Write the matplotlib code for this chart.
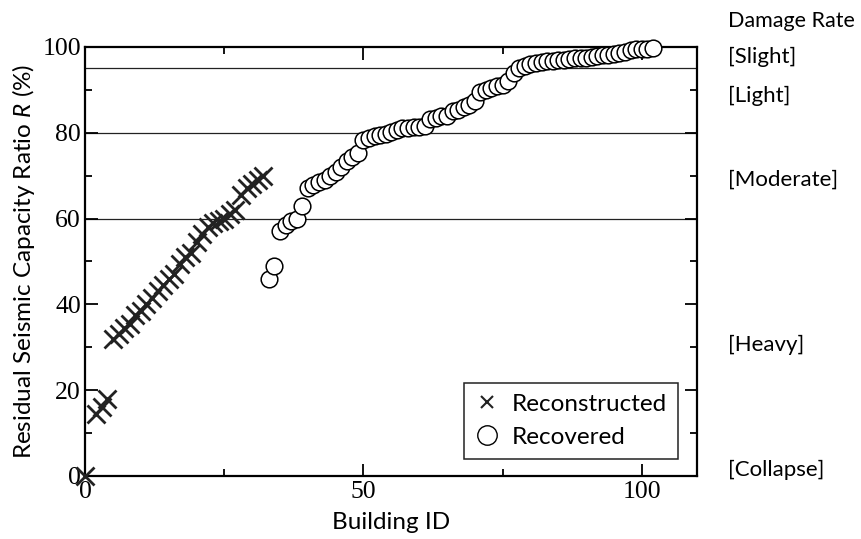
import matplotlib.pyplot as plt
from matplotlib.lines import Line2D
from matplotlib.ticker import MultipleLocator

plt.rcParams['mathtext.fontset'] = 'custom'
plt.rcParams['mathtext.it'] = 'Lato:italic'
plt.rcParams['mathtext.rm'] = 'Lato'

# building id / residual ratio R (%)
recon_id = [0, 2, 3, 4, 5, 6, 7, 8, 9, 10, 11, 12, 13, 14, 15, 16, 17, 18,
            19, 20, 21, 22, 23, 24, 25, 26, 27, 28, 29, 30, 31, 32]
recon_r = [0, 14.5, 16, 18, 32, 33, 34.5, 35.5, 37.5, 38.5, 40, 41.5, 43,
           44.5, 46, 47, 49.5, 51, 52, 54.5, 56.5, 58, 59, 59.5, 60, 61, 62,
           65.5, 67, 68, 69, 70]

recov_id = list(range(33, 103))
recov_r = [46, 49, 57, 58.5, 59.5, 60, 63, 67, 67.8, 68.4, 69, 69.8, 70.9,
           72, 73.3, 74.3, 75.2, 78.2, 78.8, 79.2, 79.5, 79.8, 80.2, 80.6,
           81, 81.2, 81.3, 81.4, 81.5, 83.2, 83.5, 83.8, 84, 85, 85.3, 86,
           86.5, 87.5, 89.5, 90, 90.4, 90.8, 91.2, 92, 94, 95, 95.6, 96, 96.2,
           96.4, 96.6, 96.8, 97, 97, 97.2, 97.3, 97.5, 97.5, 97.6, 97.8, 98,
           98.2, 98.4, 98.5, 98.8, 99.2, 99.4, 99.5, 99.6, 99.8]

limits = [95, 80, 60]
damage_labels = ['[Slight]', '[Light]', '[Moderate]', '[Heavy]', '[Collapse]']
damage_pos = [97.7, 88.6, 69, 30.5, 1.4]

fig = plt.figure(figsize=(8.61, 5.39), dpi=100)
ax = fig.add_axes([0.099, 0.117, 0.711, 0.796])

for y in limits:
    ax.axhline(y, color='#222222', lw=0.9, zorder=1)

ax.plot(recon_id, recon_r, ls='none', marker='x', ms=13, mew=2.0,
        color='#222222', zorder=3, clip_on=False)
ax.plot(recov_id, recov_r, ls='none', marker='o', ms=12, mew=1.1,
        mfc='white', mec='black', zorder=3, clip_on=False)

ax.set_xlim(0, 110)
ax.set_ylim(0, 100)
ax.xaxis.set_major_locator(MultipleLocator(50))
ax.xaxis.set_minor_locator(MultipleLocator(25))
ax.yaxis.set_major_locator(MultipleLocator(20))
ax.yaxis.set_minor_locator(MultipleLocator(10))
ax.tick_params(which='both', direction='in', top=True, right=True,
               width=1.3, labelsize=18.5)
ax.tick_params(which='major', length=9)
ax.tick_params(which='minor', length=5)
ax.tick_params(axis='y', pad=3)
ax.tick_params(axis='x', pad=4)
for lab in ax.get_xticklabels() + ax.get_yticklabels():
    lab.set_family('Liberation Serif')
for s in ax.spines.values():
    s.set_linewidth(1.6)

ax.set_xlabel('Building ID', fontsize=17.5, family='Lato', labelpad=6)
ax.set_ylabel('Residual Seismic Capacity Ratio $R$ (%)', fontsize=17.5,
              family='Lato', labelpad=4)

tr = ax.get_yaxis_transform()
ax.text(1.05, 106, 'Damage Rate', transform=tr, fontsize=15.5,
        family='Lato', va='center', ha='left', clip_on=False)
for lab, y in zip(damage_labels, damage_pos):
    ax.text(1.05, y, lab, transform=tr, fontsize=16, family='Lato',
            va='center', ha='left', clip_on=False)

handles = [Line2D([], [], ls='none', marker='x', ms=9, mew=1.5, color='#222222'),
           Line2D([], [], ls='none', marker='o', ms=14, mew=1.0,
                  mfc='white', mec='black')]
leg = ax.legend(handles, ['Reconstructed', 'Recovered'], loc='lower right',
                bbox_to_anchor=(0.968, 0.04), fancybox=False, framealpha=1,
                edgecolor='#222222', prop={'family': 'Lato', 'size': 17.5},
                handlelength=1.0, handletextpad=0.5, borderpad=0.45,
                labelspacing=0.5, borderaxespad=0)
leg.get_frame().set_linewidth(1.1)

fig.savefig('out.png', dpi=100)
